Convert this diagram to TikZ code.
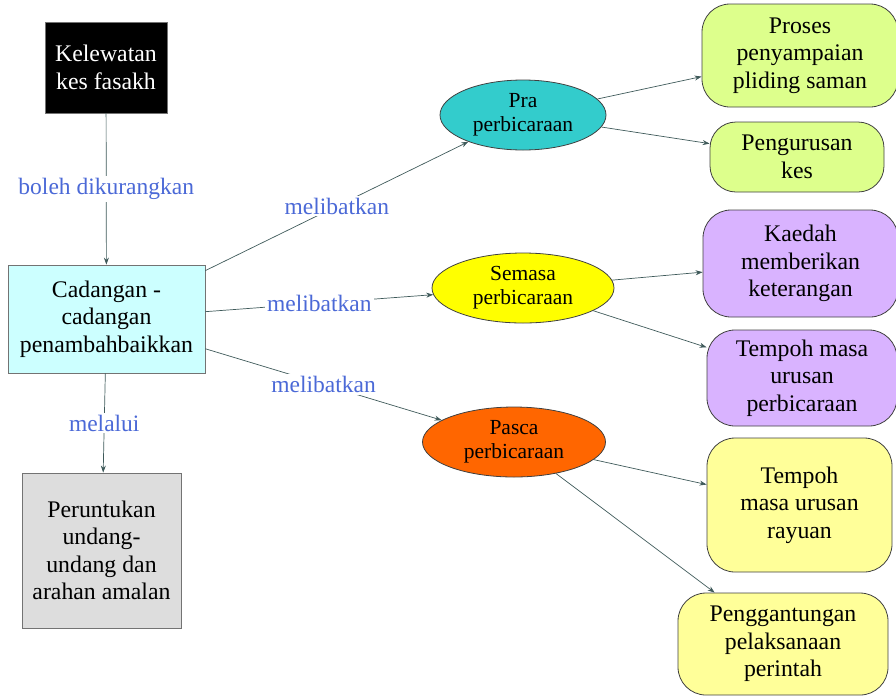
\documentclass[tikz,border=0pt]{standalone}
\usepackage{fontspec}
\setmainfont{Liberation Serif}
\usetikzlibrary{arrows.meta,shapes.geometric}
\definecolor{linec}{HTML}{3F5A5A}
\definecolor{labc}{HTML}{4B69D7}
\definecolor{cyanf}{HTML}{CCFFFF}
\definecolor{grayf}{HTML}{DDDDDD}
\definecolor{praf}{HTML}{33CCCC}
\definecolor{semf}{HTML}{FFFF00}
\definecolor{pasf}{HTML}{FF6600}
\definecolor{limef}{HTML}{DDFF8C}
\definecolor{lavf}{HTML}{D9B3FF}
\definecolor{paleyf}{HTML}{FFFF99}
\tikzset{
  sqbox/.style={draw=black!55, line width=0.8pt, align=center, inner sep=0pt,
    font=\fontsize{23.8}{27.5}\selectfont},
  ell/.style={ellipse, draw=black!75, line width=0.8pt, align=center, inner sep=0pt,
    font=\fontsize{21.5}{24}\selectfont},
  rbox/.style={draw=black!75, line width=0.8pt, rounded corners=28pt, align=center, inner sep=0pt,
    font=\fontsize{23.8}{27.5}\selectfont},
  conn/.style={draw=linec, line width=0.7pt, -{Stealth[length=7pt,width=5pt]}},
  lab/.style={fill=white, text=labc, inner sep=2pt, font=\fontsize{23.5}{26}\selectfont}
}
\begin{document}
\begin{tikzpicture}[x=1pt,y=-1pt]
\useasboundingbox (0,0) rectangle (896,697);
% square boxes
\node[sqbox, fill=black, text=white, minimum width=122pt, minimum height=91pt] (kel) at (106,67.5) {Kelewatan\\kes fasakh};
\node[sqbox, fill=cyanf, minimum width=197pt, minimum height=108pt] (cad) at (106.5,319) {Cadangan -\\cadangan\\penambahbaikkan};
\node[sqbox, fill=grayf, minimum width=159pt, minimum height=155pt] (per) at (101.5,550.5) {Peruntukan\\undang-\\undang dan\\arahan amalan};
% ellipses
\node[ell, fill=praf, minimum width=166pt, minimum height=70pt] (pra) at (523,115) {Pra\\perbicaraan};
\node[ell, fill=semf, minimum width=182pt, minimum height=70pt] (sem) at (523,288) {Semasa\\perbicaraan};
\node[ell, fill=pasf, minimum width=183pt, minimum height=70pt] (pas) at (514,442) {Pasca\\perbicaraan};
% rounded boxes
\node[rbox, fill=limef, minimum width=196pt, minimum height=103pt] (pro) at (800,55.5) {Proses\\penyampaian\\pliding saman};
\node[rbox, fill=limef, minimum width=174pt, minimum height=70pt, rounded corners=26pt] (pen) at (797,157) {Pengurusan\\kes};
\node[rbox, fill=lavf, minimum width=195pt, minimum height=107pt] (kae) at (800.5,263.5) {Kaedah\\memberikan\\keterangan};
\node[rbox, fill=lavf, minimum width=190pt, minimum height=96pt] (tem1) at (802,378) {Tempoh masa\\urusan\\perbicaraan};
\node[rbox, fill=paleyf, minimum width=185pt, minimum height=134pt] (tem2) at (799.5,505) {Tempoh\\masa urusan\\rayuan};
\node[rbox, fill=paleyf, minimum width=210pt, minimum height=102pt] (pgg) at (783,644) {Penggantungan\\pelaksanaan\\perintah};
% connectors
\draw[conn] (kel) -- node[lab] {boleh dikurangkan} (cad);
\draw[conn] (cad) -- node[lab] {melalui} (per);
\draw[conn] (cad) -- node[lab] {melibatkan} (pra);
\draw[conn] (cad) -- node[lab] {melibatkan} (sem);
\draw[conn] (cad) -- node[lab] {melibatkan} (pas);
\draw[conn] (pra) -- (pro);
\draw[conn] (pra) -- (pen);
\draw[conn] (sem) -- (kae);
\draw[conn] (sem) -- (tem1);
\draw[conn] (pas) -- (tem2);
\draw[conn] (pas) -- (pgg);
\end{tikzpicture}
\end{document}
